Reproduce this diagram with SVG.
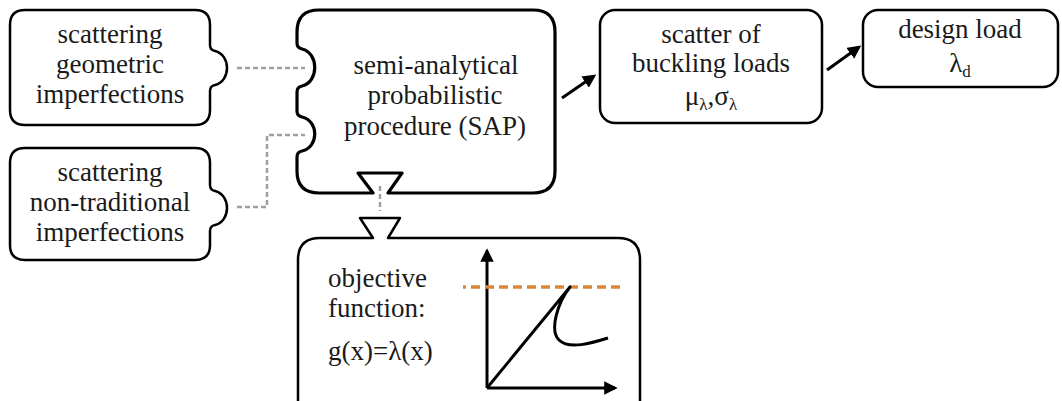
<svg xmlns="http://www.w3.org/2000/svg" width="1062" height="401" viewBox="0 0 1062 401">
<style>
.box{fill:#fff;stroke:#000;stroke-width:2.5;stroke-linejoin:round}
.thick{stroke-width:3.2}
.t{font-family:"Liberation Serif","Times New Roman",serif;font-size:27px;fill:#1a1a1a;text-anchor:middle}
.tl{font-family:"Liberation Serif","Times New Roman",serif;font-size:27px;fill:#1a1a1a}
.dash{fill:none;stroke:#a0a0a0;stroke-width:2.5;stroke-dasharray:5 3}
.arrow{fill:none;stroke:#000;stroke-width:3;marker-end:url(#ah)}
.ax{fill:none;stroke:#000;stroke-width:3;marker-end:url(#ah2)}
</style>
<defs>
<marker id="ah" viewBox="0 0 10 10" refX="8" refY="5" markerWidth="4.5" markerHeight="4.5" orient="auto" markerUnits="strokeWidth"><path d="M0,0 L10,5 L0,10 Z" fill="#000"/></marker>
<marker id="ah2" viewBox="0 0 10 10" refX="8" refY="5" markerWidth="4.5" markerHeight="4.5" orient="auto" markerUnits="strokeWidth"><path d="M0,0 L10,5 L0,10 Z" fill="#000"/></marker>
</defs>
<g id="connectors">
<path class="dash" d="M237,68 H305"/>
<path class="dash" d="M237,207 H267 V135 H305"/>
<path class="dash" d="M380,186 V211"/>
<path class="arrow" d="M562,98 L594,76"/>
<path class="arrow" d="M827,70 L859,47"/>
</g>
<g id="geom">
<path class="box" d="M25,10 H195 Q210,10 210,25 V45 Q210,50 215,51 C231,55 231,81 215,85 Q210,86 210,91 V110 Q210,125 195,125 H25 Q10,125 10,110 V25 Q10,10 25,10 Z"/>
<text class="t" x="110" y="43">scattering</text>
<text class="t" x="110" y="73">geometric</text>
<text class="t" x="110" y="103">imperfections</text>
</g>
<g id="nontrad">
<path class="box" d="M25,148 H195 Q210,148 210,163 V185 Q210,190 215,191 C231,195 231,221 215,225 Q210,226 210,231 V245 Q210,260 195,260 H25 Q10,260 10,245 V163 Q10,148 25,148 Z"/>
<text class="t" x="110" y="181">scattering</text>
<text class="t" x="110" y="211">non-traditional</text>
<text class="t" x="110" y="241">imperfections</text>
</g>
<g id="sap">
<path class="box thick" d="M319,10 H533 Q555,10 555,32 V171 Q555,193 533,193 H388 L402,173 H358 L373,193 H319 Q297,193 297,171 V157 Q297,152 302,151 C319,147 319,121 302,117 Q297,116 297,111 V92 Q297,87 302,86 C319,82 319,53 302,49 Q297,48 297,43 V32 Q297,10 319,10 Z"/>
<text class="t" x="436" y="74">semi-analytical</text>
<text class="t" x="435" y="104">probabilistic</text>
<text class="t" x="435" y="135">procedure (SAP)</text>
</g>
<g id="objective">
<path class="box" d="M320,238 H373 L360,218 H400 L388,238 H618 Q640,238 640,260 V430 H298 V260 Q298,238 320,238 Z"/>
<text class="tl" x="328" y="287">objective</text>
<text class="tl" x="328" y="317">function:</text>
<text class="tl" x="328" y="360">g(x)=λ(x)</text>
<path class="ax" d="M487,388 V251"/>
<path class="ax" d="M487,388 H615"/>
<path d="M463,287 H624" fill="none" stroke="#d9883a" stroke-width="3.5" stroke-dasharray="9 5" stroke-dashoffset="6"/>
<path d="M487,388 L570,287 C558,302 549,330 559,340 C569,350 592,343 608,338" fill="none" stroke="#000" stroke-width="3" stroke-linejoin="round"/>
</g>
<g id="scatter">
<rect class="box" x="600" y="10" width="222" height="113" rx="15"/>
<text class="t" x="711" y="43">scatter of</text>
<text class="t" x="711" y="72">buckling loads</text>
<text class="t" x="711" y="105">μ<tspan font-size="17" dy="5">λ</tspan><tspan dy="-5">,σ</tspan><tspan font-size="17" dy="5">λ</tspan></text>
</g>
<g id="design">
<rect class="box" x="863" y="10" width="195" height="77" rx="15"/>
<text class="t" x="960" y="38">design load</text>
<text class="t" x="960" y="72">λ<tspan font-size="17" dy="5">d</tspan></text>
</g>
</svg>
